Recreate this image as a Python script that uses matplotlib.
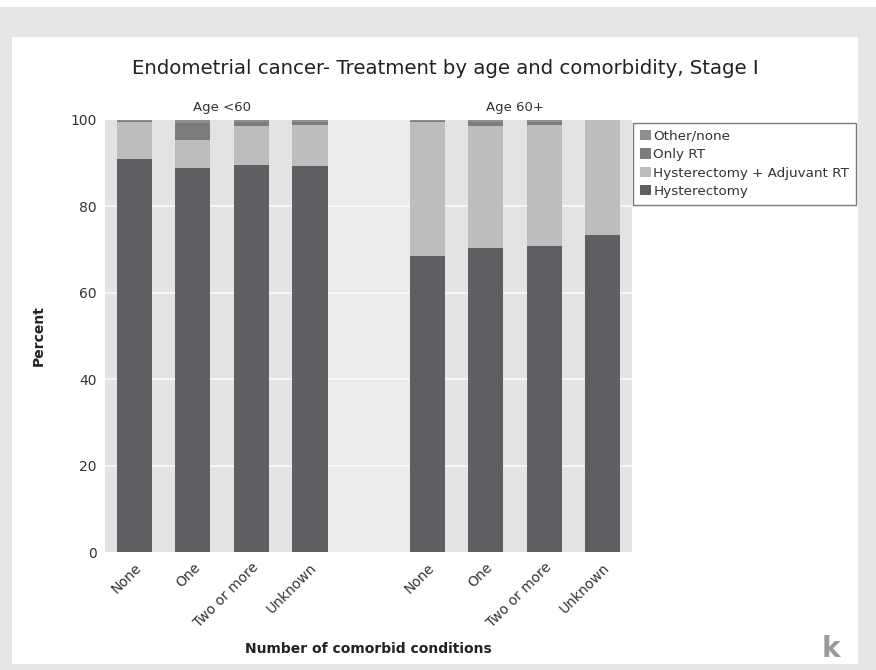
import numpy as np
import matplotlib.pyplot as plt
from matplotlib.patches import Rectangle

# values (percent of patients)
categories = ['None', 'One', 'Two or more', 'Unknown']
groups = ['Age <60', 'Age 60+']

hysterectomy = [91.0, 88.9, 89.6, 89.4,   68.5, 70.4, 70.8, 73.4]
hyst_adj_rt  = [8.5, 6.5, 8.9, 9.4,       31.0, 28.1, 28.0, 26.6]
only_rt      = [0.3, 3.8, 1.0, 0.8,       0.3, 1.0, 0.8, 0.0]
other_none   = [0.2, 0.8, 0.5, 0.4,       0.2, 0.5, 0.4, 0.0]

series_names = ['Hysterectomy', 'Hysterectomy + Adjuvant RT', 'Only RT', 'Other/none']
series_cols = ['#5e5f62', '#bdbdbd', '#7b7c7e', '#8f8f90']

# ---
fig = plt.figure(figsize=(8.76, 6.70), dpi=100)
fig.patch.set_facecolor('#e5e6e8')
fig.patches.append(Rectangle((0.0137, 0.009), 0.9658, 0.9358, transform=fig.transFigure,
                             facecolor='white', edgecolor='none', zorder=-10))
fig.patches.append(Rectangle((0, 0.9896), 1, 0.0104, transform=fig.transFigure,
                             facecolor='white', edgecolor='none', zorder=-10))

ax = fig.add_axes([0.1199, 0.1761, 0.6016, 0.6448])
ax.set_facecolor('#e3e3e3')

x = np.array([0, 1, 2, 3, 5, 6, 7, 8])
w = 0.6

# lighter strip between the two age groups, white grid lines
ax.axvspan(3.3, 4.7, color='#ececec', zorder=0, lw=0)
for yv in [20, 40, 60, 80]:
    ax.axhline(yv, color='white', lw=1.2, alpha=0.8, zorder=0.5)

bottom = np.zeros(len(x))
for vals, name, col in zip([hysterectomy, hyst_adj_rt, only_rt, other_none], series_names, series_cols):
    ax.bar(x, vals, w, bottom=bottom, color=col, label=name, zorder=2)
    bottom += np.array(vals)

ax.set_xlim(-0.5, 8.5)
ax.set_ylim(0, 100)
ax.set_yticks([0, 20, 40, 60, 80, 100])
ax.set_xticks(x)
ax.set_xticklabels(categories * 2, rotation=45, ha='right', rotation_mode='anchor')
ax.tick_params(length=0, labelsize=10, labelcolor='#333333', pad=6)
for s in ax.spines.values():
    s.set_visible(False)

# group labels above each half
ax.text(1.5, 101.5, groups[0], ha='center', va='bottom', fontsize=9.5, color='#333333')
ax.text(6.5, 101.5, groups[1], ha='center', va='bottom', fontsize=9.5, color='#333333')

ax.set_ylabel('Percent', fontsize=10, fontweight='semibold', color='#222222', labelpad=18)
ax.set_xlabel('Number of comorbid conditions', fontsize=10, fontweight='semibold',
              color='#222222', labelpad=8)

handles, labels = ax.get_legend_handles_labels()
leg = ax.legend(handles[::-1], labels[::-1], loc='upper left', bbox_to_anchor=(1.002, 0.993),
                borderaxespad=0, fancybox=False, fontsize=9.7, handlelength=0.8,
                handleheight=0.8, handletextpad=0.2, labelspacing=0.4, borderpad=0.5)
leg.get_frame().set_edgecolor('#555555')
leg.get_frame().set_linewidth(1.0)
for t in leg.get_texts():
    t.set_color('#333333')

fig.text(0.508, 0.898, 'Endometrial cancer- Treatment by age and comorbidity, Stage I',
         ha='center', va='center', fontsize=14.2, color='#222222')

# faint logo bottom right
fig.text(0.948, 0.032, 'k', ha='center', va='center', fontsize=20, fontweight='bold', color='#9a9a9a')

fig.savefig('out.png', dpi=100)
